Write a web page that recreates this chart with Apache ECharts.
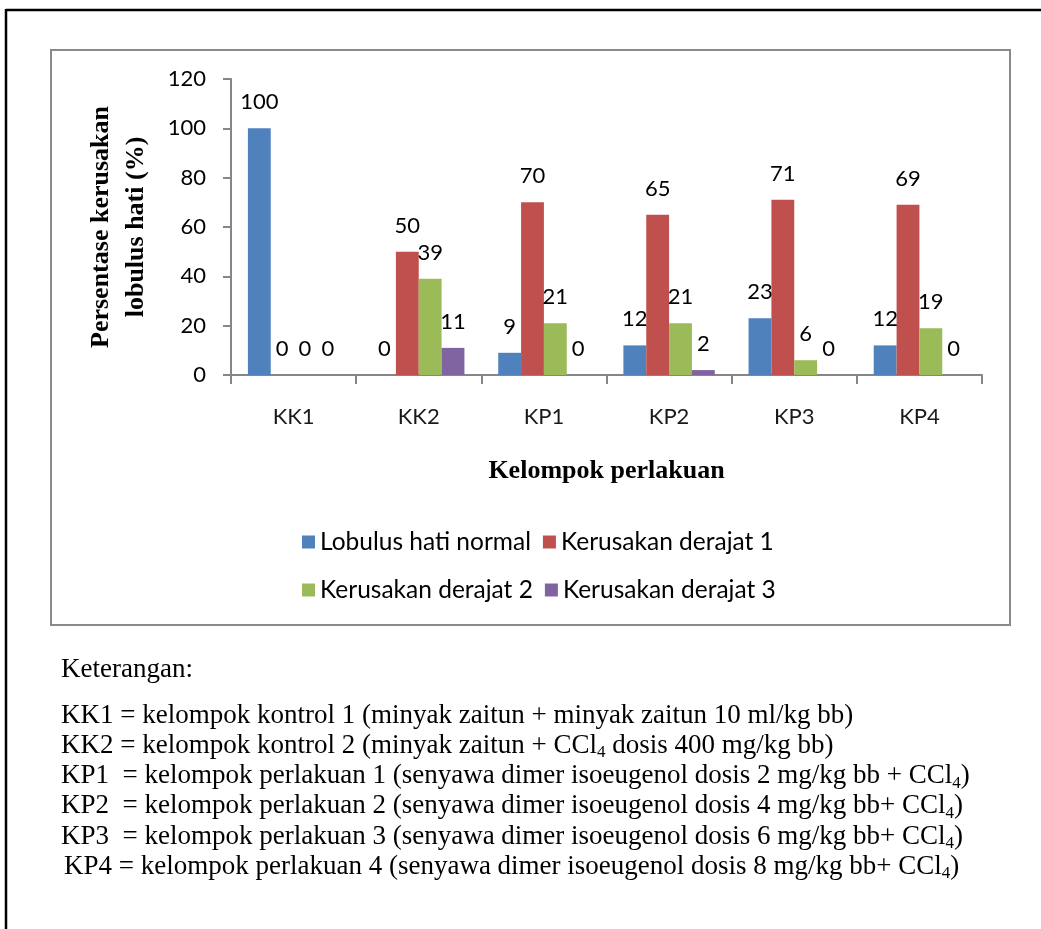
<!DOCTYPE html>
<html>
<head>
<meta charset="utf-8">
<title>Persentase kerusakan lobulus hati</title>
<script src="https://cdn.jsdelivr.net/npm/echarts@6/dist/echarts.min.js"></script>
<style>
  html, body { margin: 0; padding: 0; background: #ffffff; }
  #chart { width: 1041px; height: 929px; }
</style>
</head>
<body>
<div id="chart"></div>
<script>
// Treatment groups and the share of liver lobules per damage grade (%)
const categories = ['KK1', 'KK2', 'KP1', 'KP2', 'KP3', 'KP4'];
const lobulusNormal = [100, 0, 9, 12, 23, 12];
const derajat1 = [0, 50, 70, 65, 71, 69];
const derajat2 = [0, 39, 21, 21, 6, 19];
const derajat3 = [0, 11, 0, 2, 0, 0];
const seriesNames = ['Lobulus hati normal', 'Kerusakan derajat 1', 'Kerusakan derajat 2', 'Kerusakan derajat 3'];
const yMin = 0, yMax = 120, yStep = 20;

// Explanation of the group codes; {s|4} is the subscript in CCl4
const notesTitle = 'Keterangan:';
const notes = [
  'KK1 = kelompok kontrol 1 (minyak zaitun + minyak zaitun 10 ml/kg bb)',
  'KK2 = kelompok kontrol 2 (minyak zaitun + CCl{s|4} dosis 400 mg/kg bb)',
  'KP1  = kelompok perlakuan 1 (senyawa dimer isoeugenol dosis 2 mg/kg bb + CCl{s|4})',
  'KP2  = kelompok perlakuan 2 (senyawa dimer isoeugenol dosis 4 mg/kg bb+ CCl{s|4})',
  'KP3  = kelompok perlakuan 3 (senyawa dimer isoeugenol dosis 6 mg/kg bb+ CCl{s|4})',
  'KP4 = kelompok perlakuan 4 (senyawa dimer isoeugenol dosis 8 mg/kg bb+ CCl{s|4})'
];

const colors = ['#4F81BD', '#C0504D', '#9BBB59', '#8064A2'];
const values = [lobulusNormal, derajat1, derajat2, derajat3];
const sansFont = 'Lato';
const serifFont = 'Liberation Serif';
const axisGray = '#868686';

const chart = echarts.init(document.getElementById('chart'), null, { renderer: 'canvas' });

// Note lines below the chart frame
const noteIndent = [0, 0, 0, 0, 0, 3];
const noteElements = notes.map((line, i) => ({
  type: 'text',
  left: 61 + noteIndent[i],
  top: 702 + i * 30.3,
  z: 10,
  style: {
    text: '{n|' + line.replace(/\{s\|4\}/g, '}{s|4}{n|') + '}',
    rich: {
      n: { fontFamily: serifFont, fontSize: 27, lineHeight: 31, fill: '#000', verticalAlign: 'middle' },
      s: { fontFamily: serifFont, fontSize: 17, lineHeight: 17, fill: '#000', verticalAlign: 'bottom' }
    }
  }
}));

const legendText = { fontFamily: sansFont, fontSize: 24.5, color: '#000', lineHeight: 28 };

const option = {
  backgroundColor: '#ffffff',
  animation: false,
  color: colors,
  grid: { left: 231, right: 59, top: 79, bottom: 554, containLabel: false },
  legend: [
    {
      data: seriesNames.slice(0, 2),
      left: 297, top: 523,
      icon: 'rect', itemWidth: 13, itemHeight: 13, itemGap: 12,
      textStyle: legendText
    },
    {
      data: seriesNames.slice(2, 4),
      left: 297, top: 571,
      icon: 'rect', itemWidth: 13, itemHeight: 13, itemGap: 12,
      textStyle: legendText
    }
  ],
  xAxis: {
    type: 'category',
    data: categories,
    name: 'Kelompok perlakuan',
    nameLocation: 'middle',
    nameGap: 83,
    nameTextStyle: { fontFamily: serifFont, fontWeight: 'bold', fontSize: 26, color: '#000' },
    axisLine: { lineStyle: { color: axisGray, width: 2 } },
    axisTick: { show: true, length: 9, lineStyle: { color: axisGray, width: 2 } },
    axisLabel: { margin: 31, fontFamily: sansFont, fontSize: 22, color: '#1a1a1a' },
    splitLine: { show: false }
  },
  yAxis: {
    type: 'value',
    min: yMin, max: yMax, interval: yStep,
    name: 'Persentase kerusakan\nlobulus hati (%)',
    nameLocation: 'middle',
    nameRotate: 90,
    nameGap: 77,
    nameTextStyle: { fontFamily: serifFont, fontWeight: 'bold', fontSize: 26, lineHeight: 35, color: '#000' },
    axisLine: { show: true, lineStyle: { color: axisGray, width: 2 } },
    axisTick: { show: true, length: 8, lineStyle: { color: axisGray, width: 2 } },
    axisLabel: { margin: 25, fontFamily: sansFont, fontSize: 22, color: '#000' },
    splitLine: { show: false }
  },
  series: values.map((data, i) => ({
    name: seriesNames[i],
    type: 'bar',
    data: data,
    barGap: '0%',
    barCategoryGap: '27%',
    itemStyle: { color: colors[i] },
    label: {
      show: true, position: 'top', distance: 15,
      fontFamily: sansFont, fontSize: 22, color: '#000'
    }
  })),
  graphic: [
    // page frame lines
    { type: 'line', z: 5, shape: { x1: 6, y1: 10, x2: 1041, y2: 10 }, style: { stroke: '#000', lineWidth: 2.5 } },
    { type: 'line', z: 5, shape: { x1: 6, y1: 9, x2: 6, y2: 929 }, style: { stroke: '#000', lineWidth: 2.5 } },
    // chart area frame
    { type: 'rect', z: 5, shape: { x: 51, y: 50, width: 959, height: 575 }, style: { fill: 'none', stroke: '#8a8a8a', lineWidth: 2 } },
    {
      type: 'text', left: 61, top: 656, z: 10,
      style: { text: notesTitle, fontFamily: serifFont, fontSize: 27, fill: '#000' }
    }
  ].concat(noteElements)
};

chart.setOption(option);
</script>
</body>
</html>
